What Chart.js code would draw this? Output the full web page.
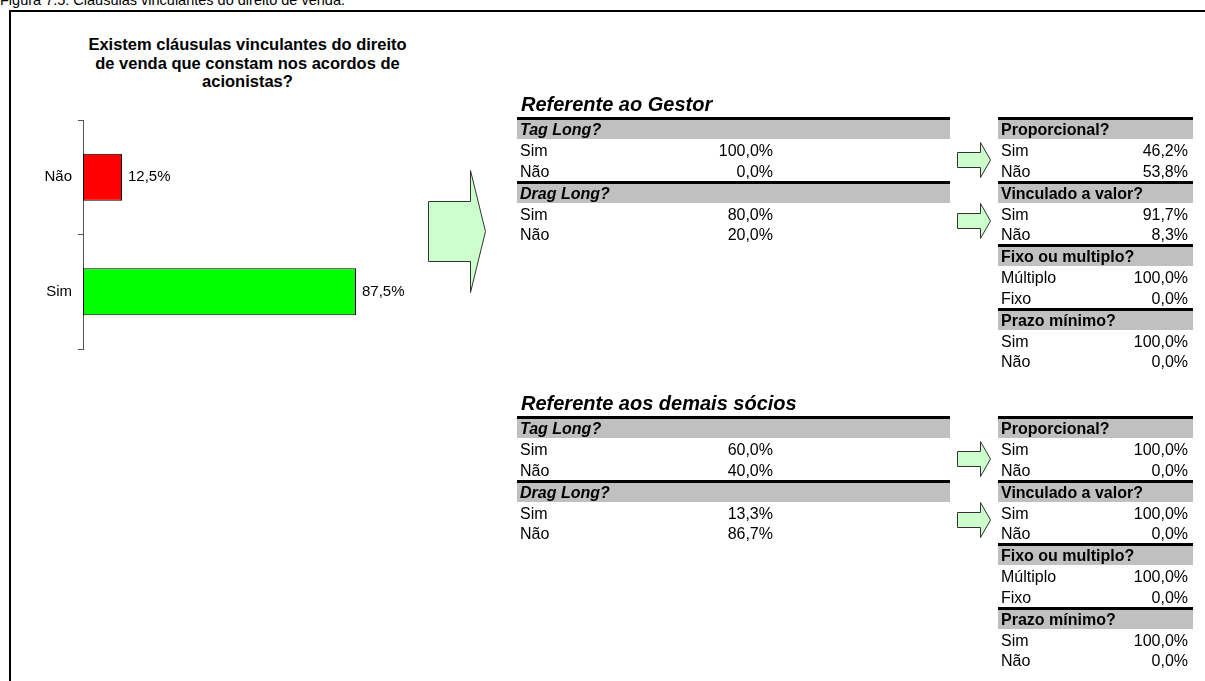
<!DOCTYPE html>
<html>
<head>
<meta charset="utf-8">
<script src="https://cdn.jsdelivr.net/npm/chart.js@4"></script>
<style>
  body { margin: 0; background: #fff; font-family: "Liberation Sans", Arial, sans-serif; color: #000; }
  #page { position: relative; width: 1205px; height: 681px; overflow: hidden; }
  .abs { position: absolute; }
  #caption { left: 0; top: -7px; font-size: 14.5px; line-height: 15px; white-space: nowrap; }
  #frame { left: 9px; top: 10px; width: 1200px; height: 700px; border-top: 2px solid #000; border-left: 2px solid #000; }
  #title { left: 20px; top: 35px; width: 455px; text-align: center; font-weight: bold; font-size: 16.5px; line-height: 18.5px; }
  .section { font-weight: bold; font-style: italic; font-size: 20px; line-height: 22px; white-space: nowrap; }
  .block { border-top: 3px solid #000; }
  .head { height: 19px; line-height: 20px; background: #c0c0c0; font-weight: bold; font-size: 16px; padding-left: 3px; white-space: nowrap; }
  .row { position: relative; height: 20.75px; line-height: 23px; font-size: 16px; }
  .row .lab { position: absolute; left: 3px; }
  .row .val { position: absolute; text-align: right; }
  #chart { left: 0; top: 0; }
  #arrows { left: 0; top: 0; }
</style>
</head>
<body>
<div id="page">
  <div id="caption" class="abs">Figura 7.5: Cláusulas vinculantes do direito de venda.</div>
  <div id="frame" class="abs"></div>
  <div id="title" class="abs">Existem cláusulas vinculantes do direito<br>de venda que constam nos acordos de<br>acionistas?</div>
  <canvas id="chart" class="abs" width="500" height="364"></canvas>
  <svg id="arrows" class="abs" width="1205" height="681"></svg>
</div>
<script>
// bar chart: share of agreements with the clauses
const categories = ["Não", "Sim"];
const shares = [12.5, 87.5];
const barColors = ["#ff0000", "#00ff00"];

// table row labels and questions
const answers = ["Sim", "Não"];
const multipleAnswers = ["Múltiplo", "Fixo"];
const leftQuestions = ["Tag Long?", "Drag Long?"];
const rightQuestions = ["Proporcional?", "Vinculado a valor?", "Fixo ou multiplo?", "Prazo mínimo?"];

// "Referente ao Gestor"
const gestorLeft = [[100.0, 0.0], [80.0, 20.0]];
const gestorRight = [[46.2, 53.8], [91.7, 8.3], [100.0, 0.0], [100.0, 0.0]];

// "Referente aos demais sócios"
const sociosLeft = [[60.0, 40.0], [13.3, 86.7]];
const sociosRight = [[100.0, 0.0], [100.0, 0.0], [100.0, 0.0], [100.0, 0.0]];

const pct = (v) => v.toFixed(1).replace(".", ",") + "%";
const page = document.getElementById("page");

function addDiv(cls, css, html) {
  const d = document.createElement("div");
  d.className = cls;
  Object.assign(d.style, css);
  if (html !== undefined) d.innerHTML = html;
  return d;
}

function buildTable(left, top, width, valRight, questions, values, italic) {
  const t = addDiv("abs", { left: left + "px", top: top + "px", width: width + "px" });
  questions.forEach((q, i) => {
    const b = addDiv("block", {});
    const h = addDiv("head", {}, q);
    if (italic) h.style.fontStyle = "italic";
    b.appendChild(h);
    const labels = q.startsWith("Fixo") ? multipleAnswers : answers;
    values[i].forEach((v, j) => {
      const r = addDiv("row", {});
      r.appendChild(addDiv("lab", {}, labels[j]));
      r.appendChild(addDiv("val", { left: "0px", width: valRight + "px" }, pct(v)));
      b.appendChild(r);
    });
    t.appendChild(b);
  });
  page.appendChild(t);
}

function buildSection(top, name, leftVals, rightVals) {
  page.appendChild(addDiv("abs section", { left: "521px", top: (top - 24) + "px" }, name));
  buildTable(517, top, 433, 256, leftQuestions, leftVals, true);
  buildTable(998, top, 195, 190, rightQuestions, rightVals, false);
}

buildSection(117, "Referente ao Gestor", gestorLeft, gestorRight);
buildSection(416, "Referente aos demais sócios", sociosLeft, sociosRight);

// block arrows
const svg = document.getElementById("arrows");
function arrow(points) {
  const p = document.createElementNS("http://www.w3.org/2000/svg", "polygon");
  p.setAttribute("points", points.map((q) => q.join(",")).join(" "));
  p.setAttribute("fill", "#ccffcc");
  p.setAttribute("stroke", "#333");
  p.setAttribute("stroke-width", "1");
  svg.appendChild(p);
}
function smallArrow(cy) {
  arrow([[957.5, cy - 7.5], [980.5, cy - 7.5], [980.5, cy - 17.5], [990.5, cy],
         [980.5, cy + 17.5], [980.5, cy + 7.5], [957.5, cy + 7.5]]);
}
arrow([[428.5, 201.5], [470.5, 201.5], [470.5, 170.5], [485.5, 231.5],
       [470.5, 292.5], [470.5, 261.5], [428.5, 261.5]]);
[160, 221, 459, 520].forEach(smallArrow);

// value labels next to the bars
const barLabels = {
  id: "barLabels",
  afterDatasetsDraw(chart) {
    const ctx = chart.ctx;
    const meta = chart.getDatasetMeta(0);
    ctx.save();
    ctx.font = "15px 'Liberation Sans', Arial, sans-serif";
    ctx.fillStyle = "#000";
    ctx.textAlign = "left";
    ctx.textBaseline = "middle";
    meta.data.forEach((bar, i) => {
      ctx.fillText(pct(shares[i]), bar.x + 6, bar.y);
    });
    ctx.restore();
  }
};

Chart.defaults.font.family = "'Liberation Sans', Arial, sans-serif";

new Chart(document.getElementById("chart"), {
  type: "bar",
  data: {
    labels: categories,
    datasets: [{
      data: shares,
      backgroundColor: barColors,
      borderColor: "#000",
      borderWidth: 1,
      borderSkipped: false,
      barPercentage: 0.41,
      categoryPercentage: 1
    }]
  },
  options: {
    indexAxis: "y",
    responsive: false,
    animation: false,
    layout: { padding: { top: 120, bottom: 14, left: 0, right: 105 } },
    plugins: { legend: { display: false }, tooltip: { enabled: false }, title: { display: false } },
    scales: {
      x: { display: false, min: 0, max: 100 },
      y: {
        afterFit: (s) => { s.width = 83; },
        grid: { offset: true, drawOnChartArea: false, tickLength: 5, color: "#555" },
        border: { color: "#555", width: 1 },
        ticks: { color: "#000", font: { size: 15 }, padding: 6 }
      }
    }
  },
  plugins: [barLabels]
});
</script>
</body>
</html>
